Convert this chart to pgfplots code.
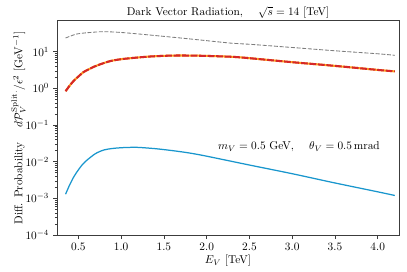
\documentclass[border=0pt]{standalone}
\usepackage{pgfplots}
\pgfplotsset{compat=1.18}
\definecolor{cred}{RGB}{214,39,40}
\definecolor{corange}{RGB}{255,170,30}
\definecolor{cblue}{RGB}{25,150,205}
\definecolor{cgray}{RGB}{125,125,125}
\definecolor{axc}{RGB}{60,60,60}
\begin{document}
\begin{tikzpicture}
\begin{axis}[
  scale only axis,
  width=301.6pt, height=189pt,
  ymode=log,
  xmin=0.25, xmax=4.25,
  ymin=1e-4, ymax=69,
  xtick={0.5,1.0,1.5,2.0,2.5,3.0,3.5,4.0},
  xticklabels={0.5,1.0,1.5,2.0,2.5,3.0,3.5,4.0},
  ytick={1e-4,1e-3,1e-2,1e-1,1,10},
  tick align=outside,
  xtick pos=bottom, ytick pos=left,
  axis line style={axc, line width=0.8pt},
  every tick/.style={axc},
  major tick length=3.5pt, minor tick length=2pt,
  xlabel={$E_V$ [TeV]},
  ylabel={Diff. Probability \quad $d\mathcal{P}_V^{\rm Split.}/\epsilon^2$ [GeV$^{-1}$]},
  xlabel style={yshift=3pt},
  ylabel style={yshift=-7pt},
  clip=true,
]
\addplot[cgray, line width=0.75pt, dash pattern=on 3.5pt off 1.5pt, smooth] coordinates {
(0.35,23.4) (0.48,30.0) (0.64,33.1) (0.80,34.8) (1.03,32.7) (1.42,27.0) (1.81,22.0) (2.30,16.8) (2.5,15.8) (3.0,12.9) (3.5,10.5) (4.0,8.7) (4.2,7.9)
};
\addplot[corange, line width=1.8pt, smooth] coordinates {
(0.35,0.83) (0.40,1.2) (0.45,1.64) (0.50,2.09) (0.56,2.76) (0.65,3.55) (0.72,4.19) (0.87,5.48) (1.03,6.31) (1.34,7.33) (1.65,7.80) (1.97,7.64) (2.30,7.18) (2.5,6.6) (3.0,5.13) (3.5,4.07) (4.0,3.16) (4.2,2.88)
};
\addplot[cred, line width=1.8pt, dash pattern=on 6pt off 1.5pt, smooth] coordinates {
(0.35,0.83) (0.40,1.2) (0.45,1.64) (0.50,2.09) (0.56,2.76) (0.65,3.55) (0.72,4.19) (0.87,5.48) (1.03,6.31) (1.34,7.33) (1.65,7.80) (1.97,7.64) (2.30,7.18) (2.5,6.6) (3.0,5.13) (3.5,4.07) (4.0,3.16) (4.2,2.88)
};
\addplot[cblue, line width=1.1pt, smooth] coordinates {
(0.35,1.3e-3) (0.40,2.4e-3) (0.45,4.0e-3) (0.50,6.0e-3) (0.55,8.5e-3) (0.60,1.10e-2) (0.70,1.66e-2) (0.80,2.09e-2) (0.90,2.29e-2) (1.00,2.40e-2) (1.10,2.45e-2) (1.20,2.45e-2) (1.40,2.26e-2) (1.60,2.0e-2) (1.80,1.72e-2) (2.00,1.41e-2) (2.50,8.1e-3) (3.00,4.7e-3) (3.50,2.63e-3) (4.00,1.51e-3) (4.20,1.20e-3)
};
\node[anchor=center] at (axis cs:3.08,0.0254) {$m_V = 0.5$ GeV, \quad $\theta_V = 0.5\,\mathrm{mrad}$};
\end{axis}
\node[anchor=base, yshift=4.3pt, inner sep=0pt] at (current axis.north) {Dark Vector Radiation, \quad $\sqrt{s}=14$ [TeV]};
\pgfresetboundingbox
\path (current axis.south west) ++(-50.3pt,-31.7pt) coordinate (bbA);
\path (current axis.north east) ++(7pt,18.3pt) coordinate (bbB);
\useasboundingbox (bbA) rectangle (bbB);
\end{tikzpicture}
\end{document}
